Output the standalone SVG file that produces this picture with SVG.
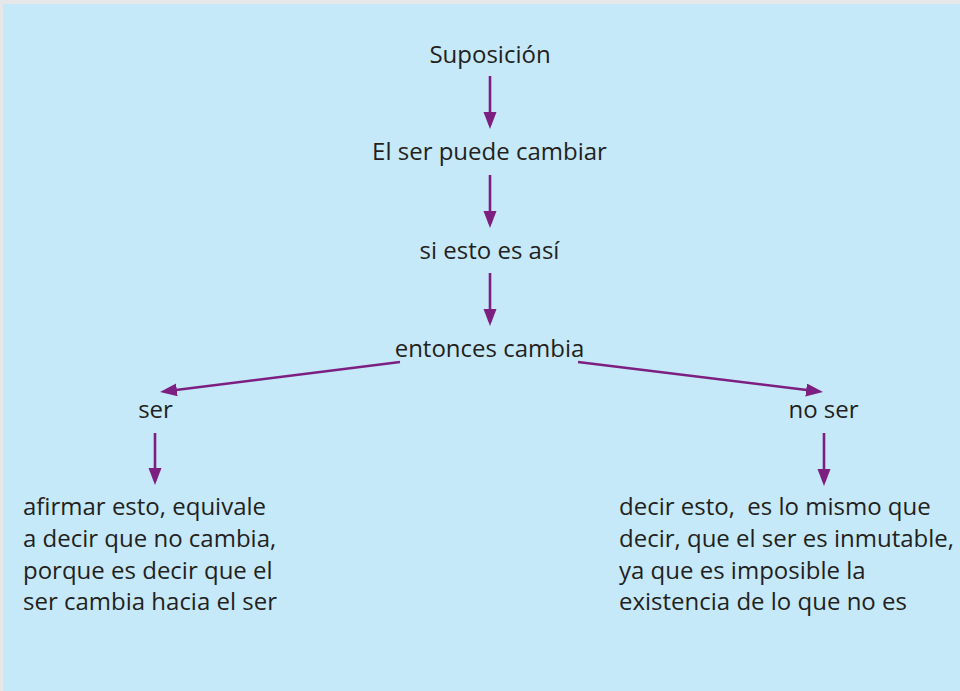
<svg xmlns="http://www.w3.org/2000/svg" width="960" height="691" viewBox="0 0 960 691">
<defs>
<style>
.t{font-family:"Open Sans","Noto Sans","DejaVu Sans",sans-serif;font-size:24px;fill:#231f20;white-space:pre}
.c{text-anchor:middle}
.a{stroke:#7d1f80;stroke-width:2.6;fill:none;marker-end:url(#ah)}
</style>
<marker id="ah" markerUnits="userSpaceOnUse" markerWidth="18" markerHeight="14" refX="13" refY="6.5" orient="auto">
<path d="M0,0 L17,6.5 L0,13 z" fill="#7d1f80"/>
</marker>
</defs>
<rect x="0" y="0" width="960" height="691" fill="#e6e7e8"/>
<rect x="3" y="4" width="957" height="687" fill="#c6e9f9"/>
<g id="connectors">
<line class="a" x1="490" y1="76" x2="490" y2="125"/>
<line class="a" x1="490" y1="175" x2="490" y2="224"/>
<line class="a" x1="490" y1="273" x2="490" y2="322"/>
<line class="a" x1="400" y1="362" x2="163.97" y2="391.5"/>
<line class="a" x1="578" y1="362" x2="819.03" y2="391.51"/>
<line class="a" x1="155" y1="433" x2="155" y2="481"/>
<line class="a" x1="824" y1="433" x2="824" y2="482"/>
</g>
<g id="suposicion"><text class="t c" x="490" y="63">Suposición</text></g>
<g id="puede-cambiar"><text class="t c" x="489.5" y="160">El ser puede cambiar</text></g>
<g id="si-esto"><text class="t c" x="489.5" y="259">si esto es así</text></g>
<g id="entonces"><text class="t c" x="489.5" y="357">entonces cambia</text></g>
<g id="ser"><text class="t c" x="155.5" y="418">ser</text></g>
<g id="no-ser"><text class="t c" x="823.5" y="418">no ser</text></g>
<g id="texto-ser">
<text class="t" x="23" y="515">afirmar esto, equivale</text>
<text class="t" x="23" y="547">a decir que no cambia,</text>
<text class="t" x="23" y="579">porque es decir que el</text>
<text class="t" x="23" y="610">ser cambia hacia el ser</text>
</g>
<g id="texto-no-ser">
<text class="t" x="619" y="515">decir esto,  es lo mismo que</text>
<text class="t" x="619" y="547">decir, que el ser es inmutable,</text>
<text class="t" x="619" y="579">ya que es imposible la</text>
<text class="t" x="619" y="610">existencia de lo que no es</text>
</g>
</svg>
